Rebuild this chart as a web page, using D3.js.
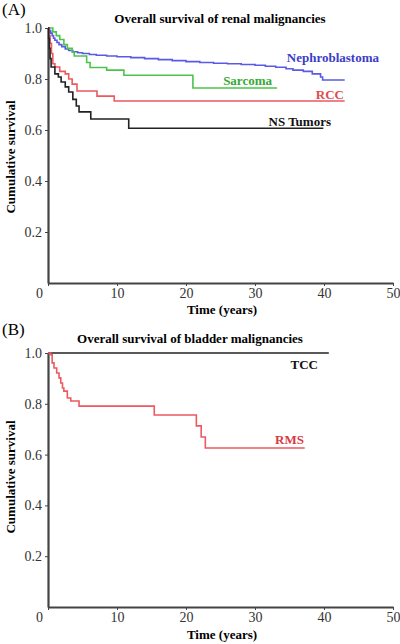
<!DOCTYPE html>
<html><head><meta charset="utf-8">
<script src="https://cdn.jsdelivr.net/npm/d3@7"></script>
<style>body{margin:0;background:#fff}svg{display:block}text{font-family:"Liberation Serif","Times New Roman",serif}</style>
</head><body><svg id="c" width="400" height="644"></svg>
<script>
// ---- data ----
const xTicks = [0, 10, 20, 30, 40, 50];
const yTicks = [0.2, 0.4, 0.6, 0.8, 1.0];
const titleA = "Overall survival of renal malignancies";
const titleB = "Overall survival of bladder malignancies";
// Panel A (renal) – Kaplan-Meier steps [time, survival]
const nephroblastoma = [[0,1],[0.2,.99],[0.4,.98],[0.6,.97],[0.8,.96],[1.0,.952],[1.3,.943],[1.6,.935],[2.0,.927],[2.5,.918],[3.0,.912],[3.6,.907],[4.3,.903],[5.0,.9],[6,.896],[7,.893],[8.5,.89],[10,.887],[12,.884],[14,.88],[16,.876],[18,.872],[20,.868],[22,.865],[24,.862],[26,.86],[28,.857],[30,.854],[31.5,.85],[33,.846],[34.5,.84],[35.5,.835],[37,.83],[38.3,.82],[39.5,.808],[39.8,.796],[43,.796]];
const sarcoma = [[0,1],[0.7,.985],[1.2,.97],[1.7,.955],[2.3,.935],[2.8,.92],[3.5,.905],[3.8,.89],[5.6,.865],[6.1,.845],[8.5,.835],[11,.815],[21,.765],[33.2,.765]];
const rcc = [[0,1],[0.15,.97],[0.3,.94],[0.5,.9],[0.7,.86],[1.0,.847],[1.7,.83],[2.5,.82],[3.0,.8],[3.5,.78],[4.2,.753],[7.1,.733],[9.6,.714],[43,.714]];
const nsTumors = [[0,1],[0.1,.96],[0.2,.92],[0.3,.88],[0.45,.847],[1.0,.82],[1.5,.808],[1.9,.788],[2.5,.769],[3.0,.749],[3.6,.72],[4.1,.694],[4.5,.671],[6.2,.643],[11.7,.607],[39.9,.607]];
// Panel B (bladder)
const tcc = [[0,1],[40.7,1]];
const rms = [[0,1],[0.4,.993],[0.6,.961],[0.87,.941],[1.26,.921],[1.6,.902],[1.85,.882],[2.1,.862],[2.3,.85],[2.8,.823],[3.3,.811],[4.5,.791],[15.4,.756],[21.5,.713],[22.2,.669],[22.8,.626],[37.2,.626]];

const svg = d3.select("#c");
const axisCol = "#444";

function panel(opt) {
  const x = d3.scaleLinear().domain([0, 50]).range([48, 393]);
  const y = d3.scaleLinear().domain([0, 1]).range([opt.y0, opt.y1]);
  const g = svg.append("g");
  g.append("text").attr("x", 2).attr("y", opt.tagY).attr("font-size", 17).text(opt.tag);
  g.append("text").attr("x", opt.titleX).attr("y", opt.titleY).attr("text-anchor", "middle")
    .attr("font-size", 13).attr("font-weight", "bold").text(opt.title);
  const xa = g.append("g").attr("transform", `translate(0,${opt.y0})`)
    .call(d3.axisBottom(x).tickValues(xTicks).tickSize(3).tickSizeOuter(0).tickFormat(d3.format("d")));
  xa.selectAll("text").attr("font-size", 14).attr("fill", "#333").attr("y", 4).attr("dy", "0.78em")
    .attr("dx", d => d === 0 ? -9 : 0);
  const ya = g.append("g").attr("transform", `translate(48,0)`)
    .call(d3.axisLeft(y).tickValues(yTicks).tickSize(3).tickSizeOuter(0).tickFormat(d3.format(".1f")));
  ya.selectAll("text").attr("font-size", 14).attr("fill", "#333");
  [xa, ya].forEach(a => {
    a.select(".domain").attr("stroke", axisCol).attr("stroke-width", 2.2);
    a.selectAll(".tick line").attr("stroke", axisCol).attr("stroke-width", 1);
    a.selectAll("text").style("font-family", '"Liberation Serif",serif');
  });
  g.append("text").attr("transform", `translate(15,${opt.ylabY}) rotate(-90)`).attr("text-anchor", "middle")
    .attr("font-size", 13).attr("font-weight", "bold").text("Cumulative survival");
  g.append("text").attr("x", 222).attr("y", opt.xlabY).attr("text-anchor", "middle")
    .attr("font-size", 13).attr("font-weight", "bold").text("Time (years)");
  const line = d3.line().x(d => x(d[0])).y(d => y(d[1])).curve(d3.curveStepAfter);
  opt.series.forEach(s => {
    g.append("path").datum(s.data).attr("d", line).attr("fill", "none")
      .attr("stroke", s.color).attr("stroke-width", 1.6);
  });
  opt.series.forEach(s => {
    g.append("text").attr("x", s.lx).attr("y", s.ly).attr("text-anchor", "end")
      .attr("font-size", 13).attr("font-weight", "bold").attr("fill", s.tcolor).text(s.name);
  });
}

panel({
  tag: "(A)", tagY: 15, title: titleA, titleX: 220, titleY: 23,
  y0: 283, y1: 28, ylabY: 157, xlabY: 314,
  series: [
    {name: "Nephroblastoma", data: nephroblastoma, color: "#5a5ae6", tcolor: "#3c3cc8", lx: 379, ly: 62},
    {name: "Sarcoma", data: sarcoma, color: "#4cc44c", tcolor: "#36a836", lx: 272, ly: 85},
    {name: "RCC", data: rcc, color: "#ec5a60", tcolor: "#e04a50", lx: 344, ly: 99},
    {name: "NS Tumors", data: nsTumors, color: "#222", tcolor: "#111", lx: 331, ly: 126}
  ]
});
panel({
  tag: "(B)", tagY: 335, title: titleB, titleX: 190, titleY: 343,
  y0: 607, y1: 353, ylabY: 477, xlabY: 639,
  series: [
    {name: "TCC", data: tcc, color: "#222", tcolor: "#111", lx: 318, ly: 369},
    {name: "RMS", data: rms, color: "#ec5a60", tcolor: "#d83a42", lx: 304, ly: 444}
  ]
});
</script></body></html>
